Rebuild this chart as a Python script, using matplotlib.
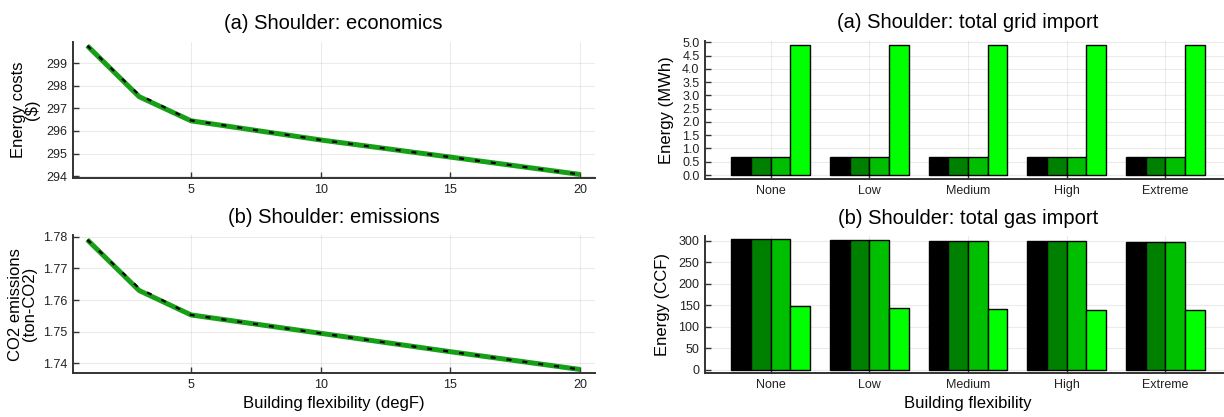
import matplotlib
matplotlib.use("Agg")
import matplotlib.pyplot as plt
import numpy as np

plt.rcParams['font.family'] = ['Liberation Sans', 'DejaVu Sans']

# ---- data ----
flex_degF = [1, 3, 5, 10, 15, 20]
cost_black = [299.78, 297.60, 296.47, 295.60, 294.84, 294.07]
cost_green = [299.78, 297.52, 296.45, 295.60, 294.84, 294.07]
co2_black = [1.7790, 1.7637, 1.7553, 1.7495, 1.7437, 1.7381]
co2_green = [1.7790, 1.7630, 1.7553, 1.7495, 1.7437, 1.7381]

categories = ["None", "Low", "Medium", "High", "Extreme"]
grid_s1 = [0.69, 0.69, 0.69, 0.69, 0.69]
grid_s2 = [0.69, 0.69, 0.69, 0.69, 0.69]
grid_s3 = [0.69, 0.69, 0.69, 0.69, 0.69]
grid_s4 = [4.90, 4.90, 4.90, 4.90, 4.90]
gas_s1 = [303, 301, 300, 299, 297.5]
gas_s2 = [303, 301, 300, 298.5, 296.5]
gas_s3 = [303, 301, 300, 298.5, 296.5]
gas_s4 = [147.5, 144, 142, 140, 138.5]

bar_colors = ["#000000", "#008000", "#00bf00", "#00ff00"]
line_green = "#17a017"

W, H = 1224, 417
fig = plt.figure(figsize=(W / 100, H / 100), dpi=100)


def ax_at(x0, x1, ytop, ybot):
    return fig.add_axes([x0 / W, 1 - ybot / H, (x1 - x0) / W, (ybot - ytop) / H])


def style(ax):
    for s in ("top", "right"):
        ax.spines[s].set_visible(False)
    for s in ("left", "bottom"):
        ax.spines[s].set_color("#333333")
        ax.spines[s].set_linewidth(1.4)
    ax.grid(True, color="#000000", alpha=0.08, linewidth=0.8)
    ax.set_axisbelow(True)
    ax.tick_params(direction="in", length=4, width=1.0, color="#333333",
                   labelsize=9, labelcolor="#222222", pad=4)


title_kw = dict(fontsize=14.5, pad=9)

# ---- left top: economics ----
ax1 = ax_at(72.5, 595, 41.7, 178.3)
style(ax1)
ax1.plot(flex_degF, cost_green, color=line_green, lw=3.6, solid_capstyle="butt")
ax1.plot(flex_degF, cost_black, color="black", lw=1.6, dashes=(2.2, 5.0))
ax1.set_xlim(0.43, 20.57)
ax1.set_ylim(293.9, 299.96)
ax1.set_xticks([5, 10, 15, 20])
ax1.set_yticks([294, 295, 296, 297, 298, 299])
ax1.set_ylabel("Energy costs\n($)", fontsize=12, linespacing=0.95, labelpad=4)
ax1.set_title("(a) Shoulder: economics", **title_kw)

# ---- left bottom: emissions ----
ax2 = ax_at(72.5, 595, 235, 373.3)
style(ax2)
ax2.plot(flex_degF, co2_green, color=line_green, lw=3.6, solid_capstyle="butt")
ax2.plot(flex_degF, co2_black, color="black", lw=1.6, dashes=(2.2, 5.0))
ax2.set_xlim(0.43, 20.57)
ax2.set_ylim(1.7369, 1.7805)
ax2.set_xticks([5, 10, 15, 20])
ax2.set_yticks([1.74, 1.75, 1.76, 1.77, 1.78])
ax2.set_yticklabels(["1.74", "1.75", "1.76", "1.77", "1.78"])
ax2.set_ylabel("CO2 emissions\n(ton-CO2)", fontsize=12, linespacing=0.95, labelpad=4)
ax2.set_xlabel("Building flexibility (degF)", fontsize=12, labelpad=4)
ax2.set_title("(b) Shoulder: emissions", **title_kw)

# ---- right: grouped bars ----
xpos = np.arange(len(categories))
offsets = [-0.3, -0.1, 0.1, 0.3]


def grouped(ax, series):
    for off, vals, c in zip(offsets, series, bar_colors):
        ax.bar(xpos + off, vals, width=0.2, color=c, edgecolor="black",
               linewidth=1.0, zorder=3)
    ax.set_xticks(xpos)
    ax.set_xticklabels(categories)
    ax.set_xlim(-0.667, 4.667)


ax3 = ax_at(705, 1231, 40.7, 179)
style(ax3)
grouped(ax3, [grid_s1, grid_s2, grid_s3, grid_s4])
ax3.set_ylim(-0.15, 5.06)
ax3.set_yticks(np.arange(0, 5.01, 0.5))
ax3.set_yticklabels([f"{v:.1f}" for v in np.arange(0, 5.01, 0.5)])
ax3.set_ylabel("Energy (MWh)", fontsize=12, labelpad=6)
ax3.set_title("(a) Shoulder: total grid import", **title_kw)

ax4 = ax_at(705, 1231, 236, 373.3)
style(ax4)
grouped(ax4, [gas_s1, gas_s2, gas_s3, gas_s4])
ax4.set_ylim(-7.7, 311)
ax4.set_yticks([0, 50, 100, 150, 200, 250, 300])
ax4.set_ylabel("Energy (CCF)", fontsize=12, labelpad=6)
ax4.set_xlabel("Building flexibility", fontsize=12, labelpad=4)
ax4.set_title("(b) Shoulder: total gas import", **title_kw)

fig.savefig("out.png", dpi=100)
